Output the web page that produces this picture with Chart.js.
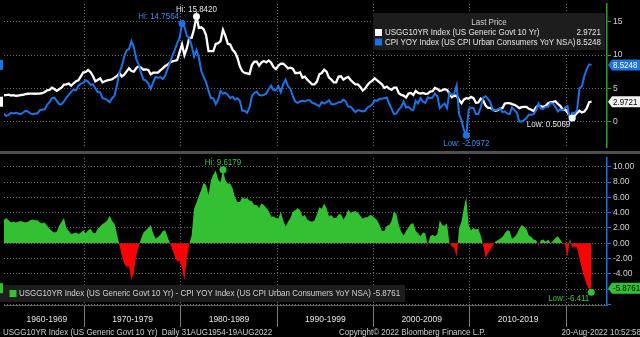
<!DOCTYPE html>
<html lang="en">
<head>
<meta charset="utf-8">
<title>USGG10YR Index vs CPI YOY Index</title>
<script src="https://cdn.jsdelivr.net/npm/chart.js@4.4.1/dist/chart.umd.min.js"></script>
<style>
  html, body { margin: 0; padding: 0; background: #000; }
  #wrap { position: relative; width: 640px; height: 337px; overflow: hidden; background: #000; }
  canvas { position: absolute; left: 0; }
  #cTop { top: 0; }
  #sep { position: absolute; left: 0; top: 151px; width: 640px; height: 3px; background: #4f4f4f; }
  #cBot { top: 154px; }
</style>
</head>
<body>
<div id="wrap">
  <canvas id="cTop" width="640" height="151"></canvas>
  <div id="sep"></div>
  <canvas id="cBot" width="640" height="183"></canvas>
</div>
<script>
'use strict';

// ================================================================
// USGG10YR vs CPI YOY — Bloomberg style, 1961-2022
// Valores trimestrales (Q3 1961 ... Q3 2022)
// ================================================================

const FIRST_QUARTER = 1961.625;   // mitad de Q3 1961, paso 0.25

// USGG10YR Index (rendimiento 10 años)
const tenYear = [
  3.98, 3.97,
  4.03, 3.90, 3.97, 3.87,   // 1962
  3.89, 3.96, 4.02, 4.10,
  4.17, 4.20, 4.19, 4.17,
  4.20, 4.21, 4.26, 4.45,   // 1965
  4.70, 4.74, 5.10, 4.88,
  4.60, 4.85, 5.10, 5.55,
  5.60, 5.70, 5.40, 5.75,
  6.05, 6.20, 6.80, 7.40,
  7.45, 7.75, 7.45, 6.85,   // 1970
  6.05, 6.25, 6.50, 5.90,
  6.05, 6.20, 6.25, 6.35,
  6.60, 6.85, 7.25, 6.80,
  7.05, 7.55, 8.00, 7.60,
  7.50, 8.05, 8.30, 8.10,   // 1975
  7.80, 7.85, 7.75, 7.10,
  7.35, 7.35, 7.35, 7.70,
  8.00, 8.35, 8.55, 8.90,
  9.05, 9.15, 9.25, 10.45,
  11.60, 10.00, 11.05, 12.60, // 1980
  12.60, 13.95, 15.842, 14.10,
  14.20, 13.90, 13.00, 10.60,
  10.60, 10.60, 11.70, 11.80,
  12.10, 13.80, 12.90, 11.70,
  11.60, 10.80, 10.40, 9.60,  // 1985
  8.30, 7.60, 7.30, 7.25,
  7.15, 8.50, 9.00, 9.00,
  8.40, 8.90, 9.10, 8.90,
  9.20, 8.85, 8.20, 7.90,
  8.40, 8.70, 8.70, 8.40,   // 1990
  8.00, 8.10, 7.95, 7.30,
  7.30, 7.40, 6.60, 6.75,
  6.30, 5.95, 5.60, 5.60,
  6.00, 7.10, 7.30, 7.80,
  7.50, 6.60, 6.30, 5.90,   // 1995
  5.90, 6.75, 6.80, 6.30,
  6.55, 6.70, 6.25, 5.90,
  5.60, 5.60, 5.20, 4.65,
  4.95, 5.50, 5.90, 6.15,
  6.50, 6.20, 5.90, 5.60,   // 2000
  5.05, 5.25, 4.95, 4.75,
  5.10, 5.10, 4.25, 4.00,
  3.90, 3.60, 4.20, 4.30,
  4.00, 4.60, 4.30, 4.20,
  4.30, 4.15, 4.20, 4.50,   // 2005
  4.55, 5.05, 4.90, 4.60,
  4.70, 4.85, 4.75, 4.25,
  3.65, 3.90, 3.85, 3.25,
  2.75, 3.30, 3.50, 3.45,
  3.70, 3.50, 2.80, 2.85,   // 2010
  3.45, 3.20, 2.40, 2.05,
  2.05, 1.80, 1.60, 1.70,
  1.95, 2.00, 2.70, 2.75,
  2.75, 2.60, 2.50, 2.30,
  2.00, 2.15, 2.20, 2.20,   // 2015
  1.90, 1.75, 1.55, 2.15,
  2.45, 2.25, 2.20, 2.35,
  2.75, 2.90, 2.95, 3.05,
  2.65, 2.35, 1.80, 1.80,
  1.40, 0.70, 0.5069, 0.85, // 2020
  1.30, 1.60, 1.35, 1.50,
  1.95, 2.90, 2.9721
];

// CPI YOY Index (US CPI Urban Consumers YoY NSA)
const cpiYoy = [
  1.2, 0.8,
  1.0, 1.3, 1.2, 1.3,       // 1962
  1.2, 1.1, 1.3, 1.6,
  1.5, 1.2, 1.1, 1.2,
  1.2, 1.7, 1.8, 1.8,       // 1965
  2.5, 2.9, 3.5, 3.6,
  3.1, 2.6, 2.6, 3.0,
  3.6, 4.0, 4.5, 4.8,
  4.7, 5.4, 5.7, 5.8,
  6.2, 6.0, 5.5, 5.6,       // 1970
  5.0, 4.4, 4.4, 3.5,
  3.4, 3.2, 2.9, 3.5,
  3.9, 5.5, 7.4, 8.3,
  9.8, 10.7, 10.9, 12.1,
  11.2, 9.4, 8.6, 7.3,      // 1975
  6.3, 6.2, 5.7, 4.9,
  5.9, 6.7, 6.6, 6.7,
  6.4, 6.9, 7.9, 8.9,
  9.9, 10.8, 11.8, 12.6,
  14.7564, 14.3, 12.9, 12.6, // 1980
  11.4, 9.8, 10.8, 9.6,
  7.6, 6.7, 5.9, 4.6,
  3.5, 3.5, 2.6, 3.3,
  4.6, 4.2, 4.3, 4.0,
  3.5, 3.7, 3.3, 3.5,       // 1985
  3.1, 1.6, 1.6, 1.3,
  2.1, 3.8, 4.3, 4.5,
  4.0, 3.9, 4.0, 4.2,
  4.9, 5.4, 4.7, 4.7,
  5.3, 4.4, 5.6, 6.3,       // 1990
  5.3, 4.9, 3.8, 3.0,
  2.8, 3.0, 3.1, 3.0,
  3.2, 3.2, 2.8, 2.7,
  2.5, 2.3, 2.9, 2.7,
  2.9, 3.2, 2.6, 2.6,       // 1995
  2.7, 2.9, 2.9, 3.3,
  3.0, 2.2, 2.2, 1.8,
  1.4, 1.7, 1.6, 1.5,
  1.6, 2.1, 2.3, 2.6,
  3.2, 3.1, 3.4, 3.4,       // 2000
  3.5, 3.6, 2.7, 1.9,
  1.1, 1.2, 1.8, 2.2,
  3.0, 2.1, 2.2, 1.8,
  1.7, 3.1, 2.7, 3.5,
  3.0, 2.8, 3.6, 3.5,       // 2005
  3.6, 4.2, 3.8, 2.0,
  2.4, 2.7, 2.0, 4.3,
  4.0, 4.2, 5.4, 1.1,
  0.2, -1.3, -2.0972, 1.8,
  2.1, 2.0, 1.1, 1.1,       // 2010
  2.1, 3.6, 3.8, 3.4,
  2.9, 1.7, 1.7, 1.8,
  2.0, 1.4, 1.5, 1.2,
  1.1, 2.1, 1.7, 1.3,
  0.0, 0.0, 0.2, 0.5,       // 2015
  1.0, 1.0, 1.1, 1.7,
  2.7, 1.9, 1.9, 2.2,
  2.2, 2.8, 2.7, 2.2,
  1.5, 1.8, 1.7, 2.1,
  2.3, 0.1, 1.3, 1.2,       // 2020
  1.7, 5.0, 5.3, 6.8,
  7.9, 8.6, 8.5248
];

// USGG10YR - CPI YOY (panel inferior)
const spread = [
  3.0, 3.3,
  3.0, 2.7, 2.8, 2.7,       // 1962
  2.8, 2.9, 2.8, 2.7,
  2.8, 3.0, 3.1, 3.0,
  3.0, 2.7, 2.6, 2.7,       // 1965
  2.3, 1.9, 1.6, 1.4,
  1.5, 2.3, 2.8, 3.3,
  2.0, 1.6, 1.2, 1.3,
  1.4, 1.2, 1.4, 1.7,
  1.3, 1.7, 1.9, 1.4,       // 1970
  1.3, 1.9, 2.2, 2.5,
  2.7, 3.0, 3.6, 2.9,
  2.5, 1.2, -0.2, -1.6,
  -2.6, -3.1, -3.0, -4.8,
  -3.8, -1.6, -0.4, 0.6,    // 1975
  1.4, 1.7, 2.0, 2.4,
  1.3, 0.6, 0.8, 1.1,
  1.6, 1.7, 0.8, 0.0,
  -0.8, -1.7, -2.4, -2.3,
  -3.2, -4.9, -1.9, -0.1,   // 1980
  1.0, 4.5, 5.3, 6.2,
  7.0, 7.9, 7.6, 6.3,
  8.2, 9.0, 9.5, 8.3,
  8.0, 9.6179, 8.2, 7.8,
  7.8, 7.2, 6.0, 5.4,       // 1985
  5.4, 6.0, 5.8, 5.9,
  5.6, 5.5, 5.0, 5.0,
  4.6, 5.2, 5.0, 4.6,
  4.2, 3.5, 3.5, 3.3,
  3.2, 4.1, 3.0, 2.2,       // 1990
  2.8, 3.3, 4.1, 4.3,
  4.6, 4.3, 3.5, 3.7,
  3.1, 2.9, 2.8, 3.0,
  3.8, 4.7, 4.5, 5.2,
  4.6, 3.5, 3.7, 3.3,       // 1995
  3.3, 3.8, 3.8, 3.1,
  3.6, 4.4, 4.0, 4.1,
  4.2, 4.0, 3.6, 3.2,
  3.4, 3.4, 3.7, 3.6,
  3.3, 3.0, 2.4, 1.6,       // 2000
  1.6, 2.3, 2.4, 2.9,
  4.2, 3.8, 2.4, 1.5,
  1.0, 1.6, 2.1, 2.5,
  2.6, 1.6, 1.3, 0.9,
  1.4, 1.3, -0.3, 0.9,      // 2005
  1.1, 0.9, 1.2, 3.0,
  2.4, 2.3, 2.6, 0.0,
  -0.4, -0.6, -1.8, 2.0,
  2.8, 4.6, 6.0, 2.4,
  1.7, 2.0, 1.8, 1.9,       // 2010
  1.0, -0.2, -1.9, -1.3,
  -0.8, -0.3, 0.2, 0.4,
  0.6, 0.8, 1.3, 1.7,
  1.6, 0.6, 0.8, 1.2,
  1.9, 2.4, 2.2, 1.8,       // 2015
  1.0, 0.8, 0.5, 0.4,
  -0.3, 0.4, 0.5, 0.2,
  0.5, 0.0, 0.3, 0.7,
  0.9, 0.5, 0.0, -0.2,
  -1.8, 0.6, -0.6, -0.4,    // 2020
  -0.6, -2.0, -3.3, -4.4,
  -5.4, -6.0, -5.8761
];

// Marcas Hi / Low del gráfico
const topMarks = [
  { x: 1981.625, y: 15.842,  text: 'Hi: 15.8420',  series: 'ten', pos: 'above' },
  { x: 1980.125, y: 14.7564, text: 'Hi: 14.7564',  series: 'cpi', pos: 'aboveLeft' },
  { x: 2009.625, y: -2.0972, text: 'Low: -2.0972', series: 'cpi', pos: 'below' },
  { x: 2020.625, y: 0.5069,  text: 'Low: 0.5069',  series: 'ten', pos: 'belowLeft' }
];
const botMarks = [
  { x: 1984.375, y: 9.6179, text: 'Hi: 9.6179', pos: 'above' },
  { x: 2022.6,   y: -6.411, text: 'Low: -6.411', pos: 'belowLeft' }
];

// Eje x: décadas
const decades = [1970, 1980, 1990, 2000, 2010, 2020];
const decadeLabels = {
  1966.1: '1960-1969', 1975: '1970-1979', 1985: '1980-1989',
  1995: '1990-1999', 2005: '2000-2009', 2015: '2010-2019'
};
const bottomTicks = [1966.1, 1970, 1975, 1980, 1985, 1990, 1995, 2000, 2005, 2010, 2015, 2020];

const X_MIN = 1961.65;
const X_MAX = 2024.23;

// Colores
const WHITE = '#ffffff';
const BLUE = '#1d73e6';
const BLUE_TXT = '#3a8ae8';
const GREEN_AX = '#2aa52a';
const GREEN = '#33c033';
const GREEN_TXT = '#3cc43c';
const RED = '#ff0000';
const GRID = '#6b6b6b';
const TXT = '#d2d2d2';
const BOX = '#1d1d1d';

const FONT = "'Liberation Sans', Arial, sans-serif";
const FS = 9.5;     // texto del plugin (comprimido en horizontal)
const SQ = 0.84;    // factor de estrechamiento tipo Bloomberg

Chart.defaults.font.family = FONT;
Chart.defaults.font.size = 8.5;
Chart.defaults.color = TXT;
Chart.defaults.animation = false;

const toPoints = arr => arr.map((v, i) => ({ x: FIRST_QUARTER + i * 0.25, y: v }));
const last = arr => arr[arr.length - 1];

// sin reserva de espacio para medias etiquetas: el área ocupa todo
const fitY = s => { s.width = 33; s.paddingTop = 0; s.paddingBottom = 0; };
const fitX = h => s => { s.height = h; s.paddingLeft = 0; s.paddingRight = 0; };

function txt(ctx, s, x, y, color, align) {
  ctx.save();
  ctx.font = `${FS}px ${FONT}`;
  ctx.fillStyle = color;
  ctx.textAlign = align || 'left';
  ctx.textBaseline = 'middle';
  ctx.translate(x, y);
  ctx.scale(SQ, 1);
  ctx.fillText(s, 0, 0);
  ctx.restore();
}

// caja de precio a la derecha del eje (con punta)
function priceTag(ctx, s, cy, bg, fg) {
  ctx.fillStyle = bg;
  ctx.beginPath();
  ctx.moveTo(608, cy);
  ctx.lineTo(612, cy - 5.5);
  ctx.lineTo(640, cy - 5.5);
  ctx.lineTo(640, cy + 5.5);
  ctx.lineTo(612, cy + 5.5);
  ctx.closePath();
  ctx.fill();
  txt(ctx, s, 613, cy + 0.5, fg);
}

function markLabel(ctx, m, px, py, color) {
  if (m.pos === 'above') txt(ctx, m.text, px, py - 7, color, 'center');
  else if (m.pos === 'aboveLeft') txt(ctx, m.text, px - 3, py - 7, color, 'right');
  else if (m.pos === 'below') txt(ctx, m.text, px, py + 8, color, 'center');
  else txt(ctx, m.text, px - 2, py + 6.5, color, 'right');
}

// ----------------------------------------------------------------
// Panel superior
// ----------------------------------------------------------------
const topOverlay = {
  id: 'topOverlay',
  afterDraw(chart) {
    const { ctx, scales: { x, y } } = chart;
    ctx.save();

    topMarks.forEach(m => {
      const c = m.series === 'ten' ? '#e8e8e8' : BLUE_TXT;
      markLabel(ctx, m, x.getPixelForValue(m.x), y.getPixelForValue(m.y), c);
    });

    // leyenda "Last Price"
    ctx.fillStyle = BOX;
    ctx.fillRect(373, 13, 232, 37);
    txt(ctx, 'Last Price', 489, 22.5, TXT, 'center');
    ctx.fillStyle = WHITE;
    ctx.fillRect(375, 29, 7, 7);
    txt(ctx, 'USGG10YR Index (US Generic Govt 10 Yr)', 385, 32.5, '#e6e6e6');
    txt(ctx, last(tenYear).toFixed(4), 601, 32.5, '#e6e6e6', 'right');
    ctx.fillStyle = BLUE;
    ctx.fillRect(375, 38.5, 7, 7);
    txt(ctx, 'CPI YOY Index (US CPI Urban Consumers YoY NSA)', 385, 42, '#e6e6e6');
    txt(ctx, last(cpiYoy).toFixed(4), 601, 42, '#e6e6e6', 'right');

    // etiquetas de último precio
    const yCpi = y.getPixelForValue(last(cpiYoy));
    const yTen = y.getPixelForValue(last(tenYear));
    priceTag(ctx, last(cpiYoy).toFixed(4), yCpi, BLUE, '#ffffff');
    priceTag(ctx, last(tenYear).toFixed(4), yTen, '#f2f2f2', '#000000');
    ctx.fillStyle = BLUE;
    ctx.fillRect(0, yCpi - 5, 3, 10);
    ctx.fillStyle = WHITE;
    ctx.fillRect(0, yTen - 5, 3, 10);

    ctx.restore();
  }
};

new Chart(document.getElementById('cTop'), {
  type: 'line',
  data: {
    datasets: [
      {
        label: 'CPI YOY Index',
        data: toPoints(cpiYoy),
        borderColor: BLUE,
        borderWidth: 2,
        pointRadius: 0,
        order: 1
      },
      {
        label: 'USGG10YR Index',
        data: toPoints(tenYear),
        borderColor: WHITE,
        borderWidth: 2.3,
        pointRadius: 0,
        order: 2
      },
      {
        type: 'scatter',
        data: topMarks.filter(m => m.series === 'cpi').map(m => ({ x: m.x, y: m.y })),
        backgroundColor: BLUE,
        borderWidth: 0,
        pointRadius: 3.5,
        order: 0
      },
      {
        type: 'scatter',
        data: topMarks.filter(m => m.series === 'ten').map(m => ({ x: m.x, y: m.y })),
        backgroundColor: WHITE,
        borderWidth: 0,
        pointRadius: 3.5,
        order: 0
      }
    ]
  },
  options: {
    responsive: false,
    devicePixelRatio: 1,
    layout: { padding: 0 },
    plugins: { legend: { display: false }, tooltip: { enabled: false } },
    scales: {
      x: {
        type: 'linear',
        min: X_MIN,
        max: X_MAX,
        afterBuildTicks: s => { s.ticks = decades.map(v => ({ value: v })); },
        ticks: { display: false },
        grid: { color: GRID, drawTicks: false },
        border: { display: false, dash: [1, 2] },
        afterFit: fitX(0)
      },
      y: {
        position: 'right',
        min: -3.86,
        max: 17.71,
        ticks: { stepSize: 5, includeBounds: false, padding: 2, color: TXT },
        grid: { color: GRID, tickColor: GREEN_AX, tickLength: 4 },
        border: { color: GREEN_AX, width: 1.5, dash: [1, 2] },
        afterFit: fitY
      }
    }
  },
  plugins: [topOverlay]
});

// ----------------------------------------------------------------
// Panel inferior: diferencial
// ----------------------------------------------------------------
const botOverlay = {
  id: 'botOverlay',
  afterDraw(chart) {
    const { ctx, scales: { x, y } } = chart;
    ctx.save();

    botMarks.forEach(m => {
      markLabel(ctx, m, x.getPixelForValue(m.x), y.getPixelForValue(m.y), GREEN_TXT);
    });

    // leyenda
    ctx.fillStyle = BOX;
    ctx.fillRect(0, 131, 405, 17);
    ctx.fillStyle = GREEN;
    ctx.fillRect(9.5, 136, 7, 7);
    txt(ctx, 'USGG10YR Index (US Generic Govt 10 Yr) - CPI YOY Index (US CPI Urban Consumers YoY NSA) '
      + last(spread).toFixed(4), 19, 139.5, TXT);

    const yLast = y.getPixelForValue(last(spread));
    priceTag(ctx, last(spread).toFixed(4), yLast, GREEN, '#0a0a0a');
    ctx.fillStyle = GREEN;
    ctx.fillRect(0, yLast - 5, 3, 10);

    // pie de página
    txt(ctx, 'USGG10YR Index (US Generic Govt 10 Yr)  Daily 31AUG1954-19AUG2022', 3, 178, '#cfcfcf');
    txt(ctx, 'Copyright\u00a9 2022 Bloomberg Finance L.P.', 339, 178, '#cfcfcf');
    txt(ctx, '20-Aug-2022 10:52:58', 641, 178, '#cfcfcf', 'right');

    ctx.restore();
  }
};

new Chart(document.getElementById('cBot'), {
  type: 'line',
  data: {
    datasets: [
      {
        label: 'USGG10YR - CPI YOY',
        data: toPoints(spread),
        borderColor: 'transparent',
        borderWidth: 1,
        pointRadius: 0,
        fill: { target: 'origin', above: GREEN, below: RED },
        order: 1
      },
      {
        type: 'scatter',
        data: botMarks.map(m => ({ x: m.x, y: m.y })),
        backgroundColor: GREEN,
        borderWidth: 0,
        pointRadius: 3.5,
        order: 0
      }
    ]
  },
  options: {
    responsive: false,
    devicePixelRatio: 1,
    layout: { padding: { top: 1 } },
    plugins: { legend: { display: false }, tooltip: { enabled: false } },
    scales: {
      x: {
        type: 'linear',
        min: X_MIN,
        max: X_MAX,
        afterBuildTicks: s => { s.ticks = bottomTicks.map(v => ({ value: v })); },
        ticks: {
          autoSkip: false,
          maxRotation: 0,
          padding: -12,
          color: '#e4e4e4',
          callback: v => decadeLabels[v] || ''
        },
        grid: {
          color: c => (c.tick && decades.includes(c.tick.value) ? GRID : 'transparent'),
          tickColor: c => (c.tick && decades.includes(c.tick.value) ? '#7a7a7a' : 'transparent'),
          tickLength: 22
        },
        border: { color: '#5a5a5a', width: 1, dash: [1, 2] },
        afterFit: fitX(32)
      },
      y: {
        position: 'right',
        min: -8.07,
        max: 11.14,
        ticks: {
          stepSize: 2,
          includeBounds: false,
          padding: 2,
          color: TXT,
          callback: v => (v < -7 ? '' : v.toFixed(2))
        },
        grid: { color: GRID, tickColor: BLUE, tickLength: 4 },
        border: { color: BLUE, width: 1.5, dash: [1, 2] },
        afterFit: fitY
      }
    }
  },
  plugins: [botOverlay]
});
</script>
</body>
</html>
